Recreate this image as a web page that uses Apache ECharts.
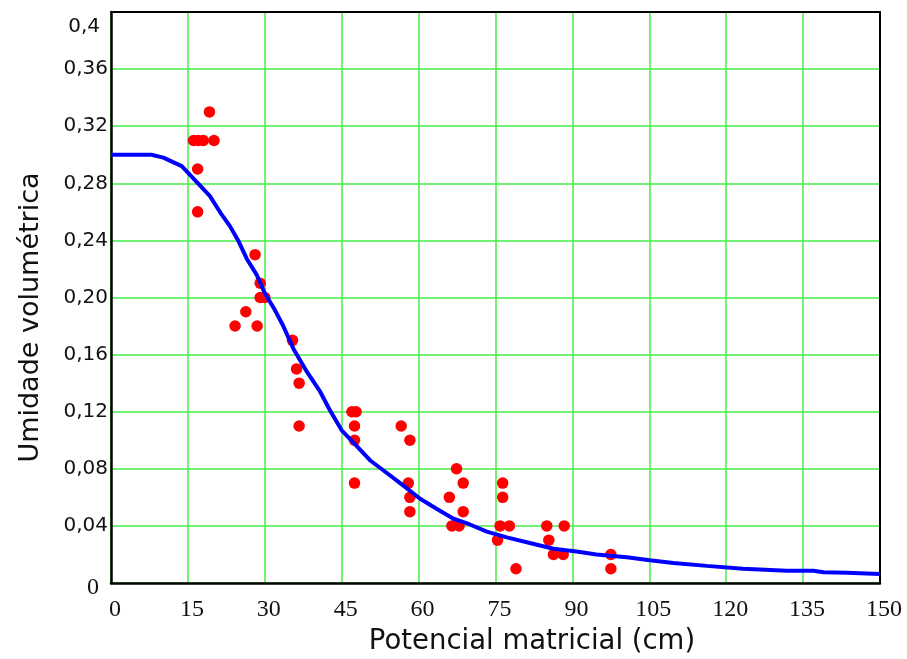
<!DOCTYPE html>
<html>
<head>
<meta charset="utf-8">
<script src="https://cdn.jsdelivr.net/npm/echarts@6/dist/echarts.min.js"></script>
<style>
html,body{margin:0;padding:0;background:#fff;}
#chart{width:907px;height:659px;}
</style>
</head>
<body>
<div id="chart"></div>
<script>
// ---- data ----
var xTickLabels = ['0','15','30','45','60','75','90','105','120','135','150'];
var yTickLabels = ['0','0,04','0,08','0,12','0,16','0,20','0,24','0,28','0,32','0,36','0,4'];

var obsX = [16.1,17.0,18.0,19.2,20.1,16.9,16.9,28.1,29.1,29.1,30.0,26.3,24.2,28.5,35.4,36.2,36.7,36.7,
            47.0,47.8,47.5,47.5,47.5,56.6,58.3,58.0,58.3,58.3,67.4,68.7,66.0,68.7,66.5,67.9,
            76.4,76.4,75.9,77.7,75.4,79.0,85.0,85.4,86.3,88.2,88.4,97.5,97.5];
var obsY = [0.31,0.31,0.31,0.33,0.31,0.29,0.26,0.23,0.21,0.20,0.20,0.19,0.18,0.18,0.17,0.15,0.14,0.11,
            0.12,0.12,0.11,0.10,0.07,0.11,0.10,0.07,0.06,0.05,0.08,0.07,0.06,0.05,0.04,0.04,
            0.07,0.06,0.04,0.04,0.03,0.01,0.04,0.03,0.02,0.02,0.04,0.02,0.01];

var fitX = [0,7.9,10.2,13.8,16.7,19.3,21.6,23.2,24.8,26.5,28.4,30.0,32.0,33.6,35.6,38.2,40.8,42.7,45.0,
            47.9,50.5,53.1,56.4,60.3,63.5,66.8,70.0,73.3,77.2,81.7,86.3,90.8,94.7,100.6,105.1,109.7,
            116.2,123.3,131.8,137.0,139.0,143.5,150];
var fitY = [0.300,0.300,0.298,0.292,0.281,0.271,0.258,0.250,0.240,0.227,0.216,0.203,0.191,0.180,0.164,
            0.148,0.134,0.121,0.107,0.096,0.086,0.079,0.070,0.059,0.052,0.045,0.041,0.036,0.032,0.028,
            0.024,0.022,0.020,0.018,0.016,0.014,0.012,0.010,0.0086,0.0086,0.0075,0.0072,0.0063];

var xTitle = 'Potencial matricial (cm)';
var yTitle = 'Umidade volumétrica';

// ---- build ----
var obsData = obsX.map(function(x,i){return [x, obsY[i]];});
var fitData = fitX.map(function(x,i){return [x, fitY[i]];});

var chart = echarts.init(document.getElementById('chart'), null, {renderer:'canvas'});
chart.setOption({
  animation:false,
  backgroundColor:'#ffffff',
  grid:{left:111, right:27, top:12, bottom:76, containLabel:false, outerBoundsMode:'none', show:false},
  xAxis:[{
    type:'value', min:0, max:150, interval:15,
    name:xTitle, nameLocation:'middle', nameGap:45,
    nameTextStyle:{fontFamily:'DejaVu Sans', fontSize:27.5, color:'#111', padding:[0,0,0,73]},
    axisLine:{show:true, onZero:false, lineStyle:{color:'#000', width:2.5}},
    axisTick:{show:false},
    splitLine:{show:true, lineStyle:{color:'#44ee44', width:1.5}},
    axisLabel:{
      margin:15, fontFamily:'Liberation Serif', fontSize:24, color:'#111',
      padding:[0,0,0,8], showMinLabel:true, showMaxLabel:true,
      formatter:function(v){return xTickLabels[Math.round(v/15)];}
    }
  },{
    type:'value', min:0, max:150, position:'top',
    axisLine:{show:true, onZero:false, lineStyle:{color:'#000', width:2}},
    axisTick:{show:false}, axisLabel:{show:false}, splitLine:{show:false}
  }],
  yAxis:[{
    type:'value', min:0, max:0.4, interval:0.04,
    name:yTitle, nameLocation:'middle', nameGap:67, nameRotate:90,
    nameTextStyle:{fontFamily:'DejaVu Sans', fontSize:27, color:'#111', padding:[0,40,0,0]},
    axisLine:{show:true, onZero:false, lineStyle:{color:'#000', width:2.5}},
    axisTick:{show:false},
    splitLine:{show:true, lineStyle:{color:'#44ee44', width:1.5}},
    axisLabel:{
      margin:3, fontFamily:'DejaVu Sans', fontSize:20, color:'#111',
      showMinLabel:true, showMaxLabel:true,
      formatter:function(v){
        var i = Math.round(v/0.04);
        if(i===10) return '{top|'+yTickLabels[i]+'}';
        if(i===0) return '{zero|'+yTickLabels[i]+'}';
        return yTickLabels[i];
      },
      rich:{
        top:{fontFamily:'DejaVu Sans', fontSize:20, color:'#111', padding:[29,8,0,0]},
        zero:{fontFamily:'Liberation Serif', fontSize:24, color:'#111', padding:[10,9,0,0]}
      }
    }
  },{
    type:'value', min:0, max:0.4, position:'right',
    axisLine:{show:true, onZero:false, lineStyle:{color:'#000', width:2}},
    axisTick:{show:false}, axisLabel:{show:false}, splitLine:{show:false}
  }],
  series:[
    {type:'scatter', data:obsData, symbol:'circle', symbolSize:11.5,
     itemStyle:{color:'#ff0000', opacity:1}, z:3},
    {type:'line', data:fitData, showSymbol:false, symbol:'none', smooth:false,
     lineStyle:{color:'#0000ff', width:4}, z:4}
  ]
});
</script>
</body>
</html>
